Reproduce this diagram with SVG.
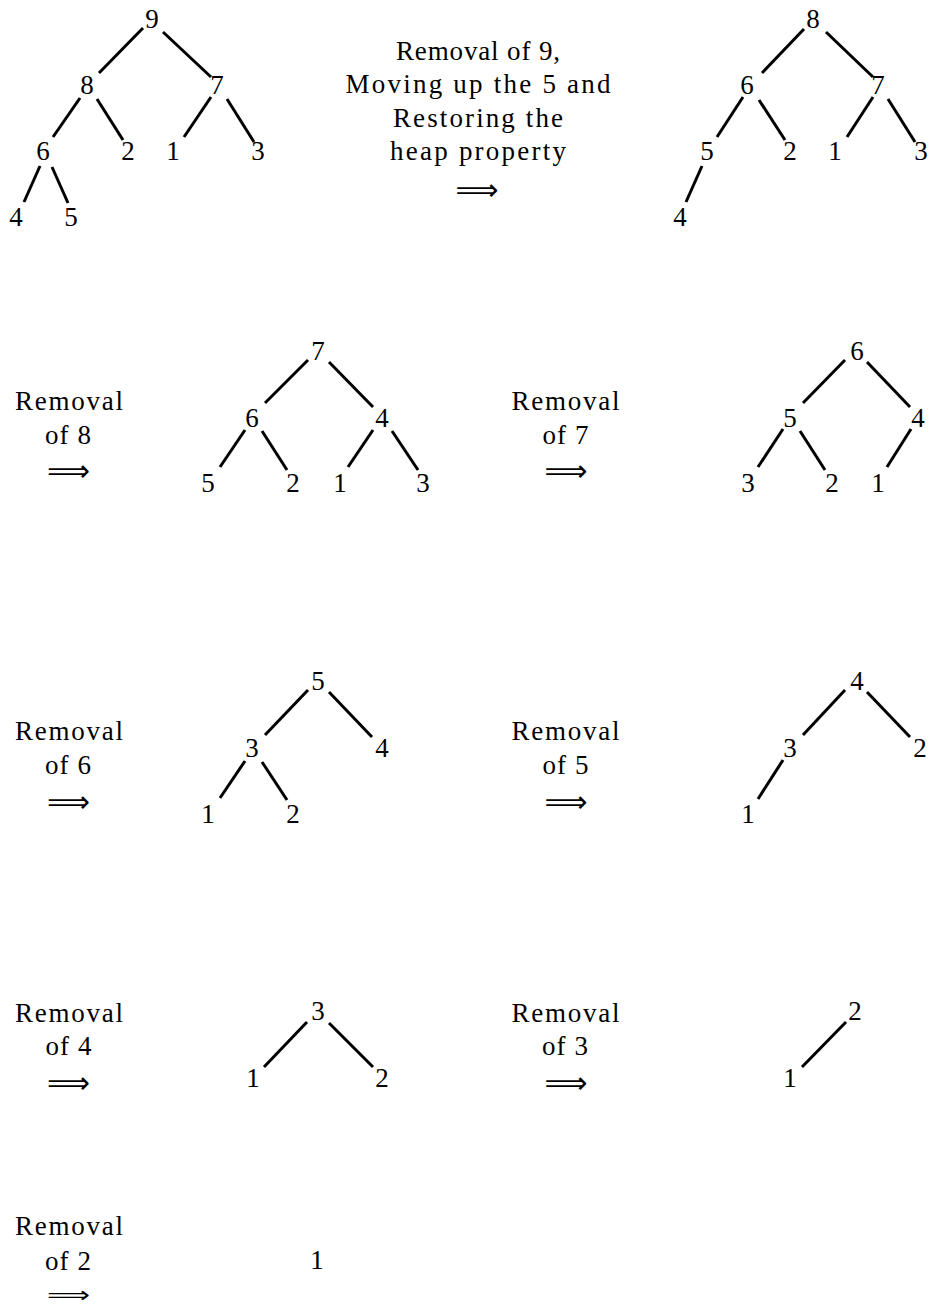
<svg xmlns="http://www.w3.org/2000/svg" width="940" height="1308" viewBox="0 0 940 1308">
<style>
.n{font-family:"Liberation Serif","DejaVu Serif",serif;font-size:27px;fill:#000;text-anchor:middle}
.t{font-family:"Liberation Serif","DejaVu Serif",serif;font-size:27px;fill:#000;text-anchor:middle}
.a{font-family:"DejaVu Sans",sans-serif;font-size:30px;fill:#000;text-anchor:middle}
.e line{stroke:#000;stroke-width:3;stroke-linecap:butt}
</style>
<rect width="940" height="1308" fill="#fff"/>
<g class="e" id="connectors">
<line x1="143" y1="28" x2="99" y2="73"/>
<line x1="163" y1="32" x2="211" y2="77"/>
<line x1="80" y1="98" x2="53" y2="137"/>
<line x1="97" y1="99" x2="123" y2="140"/>
<line x1="211" y1="97" x2="184" y2="137"/>
<line x1="227" y1="99" x2="254" y2="142"/>
<line x1="40" y1="166" x2="24" y2="202"/>
<line x1="52" y1="167" x2="68" y2="203"/>
<line x1="804" y1="29" x2="762" y2="73"/>
<line x1="826" y1="32" x2="873" y2="77"/>
<line x1="743" y1="97" x2="717" y2="137"/>
<line x1="759" y1="100" x2="785" y2="140"/>
<line x1="873" y1="97" x2="847" y2="137"/>
<line x1="888" y1="99" x2="915" y2="142"/>
<line x1="702" y1="166" x2="686" y2="202"/>
<line x1="308" y1="360" x2="265" y2="403"/>
<line x1="329" y1="362" x2="373" y2="407"/>
<line x1="245" y1="430" x2="220" y2="467"/>
<line x1="262" y1="431" x2="287" y2="470"/>
<line x1="373" y1="430" x2="348" y2="467"/>
<line x1="392" y1="431" x2="418" y2="470"/>
<line x1="845" y1="360" x2="803" y2="403"/>
<line x1="867" y1="362" x2="910" y2="407"/>
<line x1="783" y1="429" x2="758" y2="467"/>
<line x1="800" y1="431" x2="825" y2="470"/>
<line x1="911" y1="429" x2="887" y2="467"/>
<line x1="308" y1="690" x2="265" y2="735"/>
<line x1="329" y1="692" x2="372" y2="737"/>
<line x1="245" y1="761" x2="220" y2="798"/>
<line x1="262" y1="762" x2="287" y2="800"/>
<line x1="845" y1="690" x2="803" y2="735"/>
<line x1="867" y1="692" x2="910" y2="737"/>
<line x1="783" y1="760" x2="758" y2="799"/>
<line x1="307" y1="1022" x2="264" y2="1067"/>
<line x1="329" y1="1023" x2="373" y2="1067"/>
<line x1="846" y1="1022" x2="802" y2="1067"/>
</g>
<g id="t1-9"><text class="n" x="152" y="28">9</text></g>
<g id="t1-8"><text class="n" x="87" y="94">8</text></g>
<g id="t1-7"><text class="n" x="217" y="94">7</text></g>
<g id="t1-6"><text class="n" x="43" y="160">6</text></g>
<g id="t1-2"><text class="n" x="128" y="160">2</text></g>
<g id="t1-1"><text class="n" x="173" y="160">1</text></g>
<g id="t1-3"><text class="n" x="258" y="160">3</text></g>
<g id="t1-4"><text class="n" x="16" y="226">4</text></g>
<g id="t1-5"><text class="n" x="71" y="226">5</text></g>
<g id="label1">
<text class="t" x="478" y="60" textLength="164" lengthAdjust="spacing">Removal of 9,</text>
<text class="t" x="478" y="93" textLength="265" lengthAdjust="spacing">Moving up the 5 and</text>
<text class="t" x="478" y="127" textLength="170" lengthAdjust="spacing">Restoring the</text>
<text class="t" x="478" y="160" textLength="176" lengthAdjust="spacing">heap property</text>
<text class="a" x="477" y="200" textLength="43" lengthAdjust="spacingAndGlyphs">⟹</text>
</g>
<g id="t2-8"><text class="n" x="813" y="28">8</text></g>
<g id="t2-6"><text class="n" x="747" y="94">6</text></g>
<g id="t2-7"><text class="n" x="878" y="94">7</text></g>
<g id="t2-5"><text class="n" x="707" y="160">5</text></g>
<g id="t2-2"><text class="n" x="790" y="160">2</text></g>
<g id="t2-1"><text class="n" x="835" y="160">1</text></g>
<g id="t2-3"><text class="n" x="921" y="160">3</text></g>
<g id="t2-4"><text class="n" x="680" y="226">4</text></g>
<g id="label2">
<text class="t" x="69" y="410" textLength="108" lengthAdjust="spacing">Removal</text>
<text class="t" x="68" y="444" textLength="46" lengthAdjust="spacing">of 8</text>
<text class="a" x="68.5" y="481" textLength="43" lengthAdjust="spacingAndGlyphs">⟹</text>
</g>
<g id="t3-7"><text class="n" x="318" y="360">7</text></g>
<g id="t3-6"><text class="n" x="252" y="427">6</text></g>
<g id="t3-4"><text class="n" x="382" y="427">4</text></g>
<g id="t3-5"><text class="n" x="208" y="492">5</text></g>
<g id="t3-2"><text class="n" x="293" y="492">2</text></g>
<g id="t3-1"><text class="n" x="340" y="492">1</text></g>
<g id="t3-3"><text class="n" x="423" y="492">3</text></g>
<g id="label3">
<text class="t" x="565.5" y="410" textLength="108" lengthAdjust="spacing">Removal</text>
<text class="t" x="565.5" y="444" textLength="46" lengthAdjust="spacing">of 7</text>
<text class="a" x="566" y="481" textLength="43" lengthAdjust="spacingAndGlyphs">⟹</text>
</g>
<g id="t4-6"><text class="n" x="857" y="360">6</text></g>
<g id="t4-5"><text class="n" x="790" y="427">5</text></g>
<g id="t4-4"><text class="n" x="918" y="427">4</text></g>
<g id="t4-3"><text class="n" x="748" y="492">3</text></g>
<g id="t4-2"><text class="n" x="832" y="492">2</text></g>
<g id="t4-1"><text class="n" x="878" y="492">1</text></g>
<g id="label4">
<text class="t" x="69" y="740" textLength="108" lengthAdjust="spacing">Removal</text>
<text class="t" x="68" y="774" textLength="46" lengthAdjust="spacing">of 6</text>
<text class="a" x="68.5" y="812" textLength="43" lengthAdjust="spacingAndGlyphs">⟹</text>
</g>
<g id="t5-5"><text class="n" x="318" y="690">5</text></g>
<g id="t5-3"><text class="n" x="252" y="757">3</text></g>
<g id="t5-4"><text class="n" x="382" y="757">4</text></g>
<g id="t5-1"><text class="n" x="208" y="823">1</text></g>
<g id="t5-2"><text class="n" x="293" y="823">2</text></g>
<g id="label5">
<text class="t" x="565.5" y="740" textLength="108" lengthAdjust="spacing">Removal</text>
<text class="t" x="565.5" y="774" textLength="46" lengthAdjust="spacing">of 5</text>
<text class="a" x="566" y="812" textLength="43" lengthAdjust="spacingAndGlyphs">⟹</text>
</g>
<g id="t6-4"><text class="n" x="857" y="690">4</text></g>
<g id="t6-3"><text class="n" x="790" y="757">3</text></g>
<g id="t6-2"><text class="n" x="920" y="757">2</text></g>
<g id="t6-1"><text class="n" x="748" y="823">1</text></g>
<g id="label6">
<text class="t" x="69" y="1022" textLength="108" lengthAdjust="spacing">Removal</text>
<text class="t" x="68.5" y="1055" textLength="46" lengthAdjust="spacing">of 4</text>
<text class="a" x="68.5" y="1093" textLength="43" lengthAdjust="spacingAndGlyphs">⟹</text>
</g>
<g id="t7-3"><text class="n" x="318" y="1020">3</text></g>
<g id="t7-1"><text class="n" x="253" y="1087">1</text></g>
<g id="t7-2"><text class="n" x="382" y="1087">2</text></g>
<g id="label7">
<text class="t" x="565.5" y="1022" textLength="108" lengthAdjust="spacing">Removal</text>
<text class="t" x="565" y="1055" textLength="46" lengthAdjust="spacing">of 3</text>
<text class="a" x="566" y="1093" textLength="43" lengthAdjust="spacingAndGlyphs">⟹</text>
</g>
<g id="t8-2"><text class="n" x="855" y="1020">2</text></g>
<g id="t8-1"><text class="n" x="790" y="1087">1</text></g>
<g id="label8">
<text class="t" x="69" y="1235" textLength="108" lengthAdjust="spacing">Removal</text>
<text class="t" x="68" y="1270" textLength="46" lengthAdjust="spacing">of 2</text>
<text class="a" x="68.5" y="1302" textLength="43" lengthAdjust="spacingAndGlyphs" style="font-size:21px">⟹</text>
</g>
<g id="t9-1"><text class="n" x="317" y="1269">1</text></g>
</svg>
